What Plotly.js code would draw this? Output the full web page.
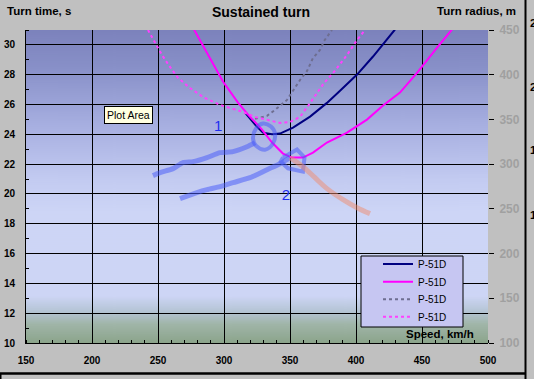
<!DOCTYPE html>
<html>
<head>
<meta charset="utf-8">
<script src="https://cdn.plot.ly/plotly-3.0.1.min.js"></script>
<style>html,body{margin:0;padding:0;background:#c0c0c0;overflow:hidden}#chart{width:534px;height:379px}</style>
</head>
<body>
<div id="chart"></div>
<script>
// ---- data ----
const seriesNames = ["P-51D", "P-51D", "P-51D", "P-51D"];
const xTicks = [150, 200, 250, 300, 350, 400, 450, 500];
const leftTicks = [10, 12, 14, 16, 18, 20, 22, 24, 26, 28, 30];
const rightTicks = [100, 150, 200, 250, 300, 350, 400, 450];

// solid navy: turn time, s
const speedNavy = [315.9, 324.2, 329.5, 336.4, 342.4, 352.3, 365.2, 378.0, 387.9, 400.8, 412.9, 422.0, 429.5];
const timeNavy  = [25.45, 24.58, 24.11, 24.01, 24.05, 24.45, 25.19, 26.11, 26.93, 28.01, 29.22, 30.22, 31.03];
// solid magenta: turn time, s
const speedMag = [277.3, 287.9, 299.2, 310.6, 318.2, 328.8, 336.4, 344.7, 351.5, 359.8, 367.4, 378.0, 393.2, 408.3, 420.5, 433.3, 447.0, 461.4, 472.7];
const timeMag  = [31.03, 29.35, 27.54, 26.13, 25.32, 24.32, 23.45, 22.71, 22.44, 22.44, 22.77, 23.45, 24.11, 24.99, 25.93, 26.80, 28.21, 29.82, 31.03];
// dotted grey: turn radius, m
const speedGrayDot  = [323.5, 332.6, 338.6, 347.7, 357.6, 362.9, 367.4, 372.7, 375.8, 381.8];
const radiusGrayDot = [350.6, 354.0, 360.6, 371.8, 394.1, 404.2, 418.7, 427.6, 437.7, 450.0];
// dotted pink: turn radius, m
const speedPinkDot  = [242.4, 249.2, 253.0, 259.1, 265.2, 274.2, 284.1, 297.0, 312.1, 323.5, 332.6, 342.4, 350.0, 357.6, 365.2, 375.8, 383.3, 393.2, 400.8, 406.8];
const radiusPinkDot = [450.0, 432.1, 422.1, 408.7, 396.4, 385.2, 375.1, 366.2, 359.5, 352.8, 349.4, 346.1, 347.2, 352.8, 368.4, 390.8, 403.1, 422.1, 438.8, 450.0];

// hand-drawn marks (speed, turn time)
const stroke1Speed = [246.2, 251.5, 261.4, 268.9, 276.5, 287.1, 297.0, 306.8, 317.4, 323.5];
const stroke1Time  = [21.23, 21.43, 21.70, 22.10, 22.17, 22.44, 22.77, 22.84, 23.17, 23.44];
const loop1Speed = [329.5, 335.6, 338.6, 337.1, 331.1, 324.2, 322.0, 324.2, 329.5];
const loop1Time  = [24.72, 24.52, 24.05, 23.38, 22.97, 23.24, 23.71, 24.38, 24.72];
const stroke2Speed = [266.7, 279.5, 287.1, 297.0, 306.8, 319.7, 332.6, 342.4, 350.0];
const stroke2Time  = [19.68, 20.09, 20.29, 20.49, 20.76, 21.09, 21.63, 22.03, 22.44];
const loop2Speed = [344.7, 355.3, 361.0, 359.8, 348.5, 343.0, 344.7];
const loop2Time  = [22.44, 22.98, 22.45, 21.50, 21.72, 22.17, 22.44];
const stroke3Speed = [350.0, 359.8, 368.9, 378.0, 390.2, 400.8, 410.6];
const stroke3Time  = [22.44, 21.83, 21.09, 20.36, 19.62, 19.08, 18.68];
const markLabels = ["1", "2"];
const markLabelSpeed = [295.5, 347.0];
const markLabelTime = [24.45, 19.82];
const edgeLabels = ["2", "2", "1", "1"];

// ---- background gradient for the plot area ----
function gradientURL() {
  const c = document.createElement('canvas');
  c.width = 8; c.height = 313;
  const g = c.getContext('2d');
  const gr = g.createLinearGradient(0, 0, 0, 313);
  gr.addColorStop(0.00, '#7c82bc');
  gr.addColorStop(0.12, '#8890c8');
  gr.addColorStop(0.30, '#a6aee0');
  gr.addColorStop(0.48, '#c3cbf1');
  gr.addColorStop(0.58, '#cdd5f6');
  gr.addColorStop(0.85, '#cdd5f5');
  gr.addColorStop(0.90, '#b4c4d4');
  gr.addColorStop(0.94, '#a0b5a8');
  gr.addColorStop(1.00, '#8ba48b');
  g.fillStyle = gr; g.fillRect(0, 0, 8, 313);
  return c.toDataURL('image/png');
}

const F = 'Liberation Sans, Arial, sans-serif';
const hand = 'rgba(70,90,250,0.52)';
const legendIds = ['legend', 'legend2', 'legend3', 'legend4'];
const traces = [
  {x: speedNavy, y: timeNavy, name: seriesNames[0], legend: legendIds[0], mode: 'lines', line: {color: '#000080', width: 2}},
  {x: speedMag, y: timeMag, name: seriesNames[1], legend: legendIds[1], mode: 'lines', line: {color: '#ff00ff', width: 2}},
  {x: speedGrayDot, y: radiusGrayDot, yaxis: 'y2', name: seriesNames[2], legend: legendIds[2], mode: 'lines', line: {color: '#6e6e90', width: 2, dash: 'dot'}},
  {x: speedPinkDot, y: radiusPinkDot, yaxis: 'y2', name: seriesNames[3], legend: legendIds[3], mode: 'lines', line: {color: '#ff40ff', width: 2, dash: 'dot'}},
  {x: stroke1Speed, y: stroke1Time, mode: 'lines', showlegend: false, line: {color: hand, width: 5, shape: 'spline', smoothing: 0.6}},
  {x: loop1Speed, y: loop1Time, mode: 'lines', showlegend: false, line: {color: hand, width: 4, shape: 'spline'}},
  {x: stroke2Speed, y: stroke2Time, mode: 'lines', showlegend: false, line: {color: hand, width: 5, shape: 'spline', smoothing: 0.6}},
  {x: loop2Speed, y: loop2Time, mode: 'lines', showlegend: false, line: {color: hand, width: 4}},
  {x: stroke3Speed, y: stroke3Time, mode: 'lines', showlegend: false, line: {color: 'rgba(240,140,110,0.5)', width: 5, shape: 'spline'}},
  {x: markLabelSpeed, y: markLabelTime, mode: 'text', text: markLabels, showlegend: false,
   textfont: {family: F, size: 15, color: '#1f2ff0'}, hoverinfo: 'skip'}
];

const L = 26, R = 488, T = 30, B = 343, W = 534, H = 379;
const px = v => (v - L) / (R - L);
const py = v => (B - v) / (B - T);

const edgeY = [23, 87, 150, 215];
const annotations = [
  {text: 'Turn time, s', xref: 'paper', yref: 'paper', x: px(5), y: py(10.5), xanchor: 'left', yanchor: 'middle', showarrow: false, font: {family: F, size: 11.5, color: '#000', weight: 'bold'}},
  {text: 'Turn radius, m', xref: 'paper', yref: 'paper', x: px(518), y: py(10.5), xanchor: 'right', yanchor: 'middle', showarrow: false, font: {family: F, size: 11.5, color: '#000', weight: 'bold'}},
  {text: 'Speed, km/h', xref: 'paper', yref: 'paper', x: px(476), y: py(334), xanchor: 'right', yanchor: 'middle', showarrow: false, font: {family: F, size: 11.5, color: '#000', weight: 'bold'}},
  {text: 'Plot Area', xref: 'paper', yref: 'paper', x: px(128), y: py(115.3), xanchor: 'center', yanchor: 'middle', showarrow: false,
   font: {family: F, size: 10.5, color: '#000'}, bgcolor: '#ffffe1', bordercolor: '#000', borderwidth: 1, borderpad: 2}
].concat(edgeLabels.map((t, i) => ({text: t, xref: 'paper', yref: 'paper', x: px(528), y: py(edgeY[i]), xanchor: 'left', yanchor: 'middle', showarrow: false, font: {family: F, size: 11.5, color: '#000', weight: 'bold'}})));

const shapes = [
  {type: 'rect', xref: 'paper', yref: 'paper', x0: px(361), x1: px(463), y0: py(327), y1: py(256), fillcolor: '#c6c6f2', line: {color: '#000', width: 1}, layer: 'above'},
  {type: 'line', xref: 'paper', yref: 'paper', x0: px(525.5), x1: px(525.5), y0: py(0), y1: py(379), line: {color: '#000', width: 2}},
  {type: 'line', xref: 'paper', yref: 'paper', x0: px(0), x1: px(525.5), y0: py(373.5), y1: py(373.5), line: {color: '#000', width: 2.5}},
  {type: 'line', xref: 'paper', yref: 'paper', x0: px(0.5), x1: px(0.5), y0: py(373.5), y1: py(379), line: {color: '#000', width: 2}}
];

const rowY = [264, 281.7, 299.3, 316.7];
const legendStyle = y => ({x: px(378), y: py(y), xanchor: 'left', yanchor: 'middle', bgcolor: 'rgba(0,0,0,0)', borderwidth: 0,
  font: {family: F, size: 10, color: '#000'}});

const layout = {
  width: W, height: H,
  margin: {l: L, r: W - R, t: T, b: H - B, pad: 0},
  paper_bgcolor: '#c0c0c0', plot_bgcolor: 'rgba(0,0,0,0)',
  font: {family: F, color: '#000'},
  title: {text: '<b>Sustained turn</b>', x: 261 / W, xanchor: 'center', y: 1 - 12.5 / H, yanchor: 'middle', font: {family: F, size: 14, color: '#000'}},
  showlegend: true,
  legend: legendStyle(rowY[0]),
  legend2: legendStyle(rowY[1]),
  legend3: legendStyle(rowY[2]),
  legend4: legendStyle(rowY[3]),
  xaxis: {range: [150, 500], tickvals: xTicks, showgrid: true, gridcolor: '#000', gridwidth: 1, zeroline: false,
          showline: true, linecolor: '#000', linewidth: 1, ticks: '', ticklabelstandoff: 8,
          tickfont: {family: F, size: 10, color: '#000', weight: 'bold'},
          minor: {dtick: 10, ticks: 'inside', ticklen: 3, tickcolor: '#000', showgrid: false}},
  yaxis: {range: [10, 31], tickvals: leftTicks, showgrid: true, gridcolor: '#000', gridwidth: 1, zeroline: false,
          showline: true, linecolor: '#000', linewidth: 1, ticks: '', ticklabelstandoff: 8,
          tickfont: {family: F, size: 10, color: '#000', weight: 'bold'},
          minor: {dtick: 1, ticks: 'inside', ticklen: 3, tickcolor: '#000', showgrid: false}},
  yaxis2: {range: [100, 450], tickvals: rightTicks, overlaying: 'y', side: 'right', showgrid: false, zeroline: false,
           showline: false, ticks: 'outside', ticklen: 5, tickcolor: '#000', ticklabelstandoff: 3,
           tickfont: {family: F, size: 12, color: '#a0a0a0', weight: 'bold'}},
  images: [{source: gradientURL(), xref: 'paper', yref: 'paper', x: 0, y: 1, sizex: 1, sizey: 1, sizing: 'stretch', layer: 'below', xanchor: 'left', yanchor: 'top'}],
  annotations: annotations,
  shapes: shapes
};

Plotly.newPlot('chart', traces, layout, {staticPlot: true, displayModeBar: false});
</script>
</body>
</html>
